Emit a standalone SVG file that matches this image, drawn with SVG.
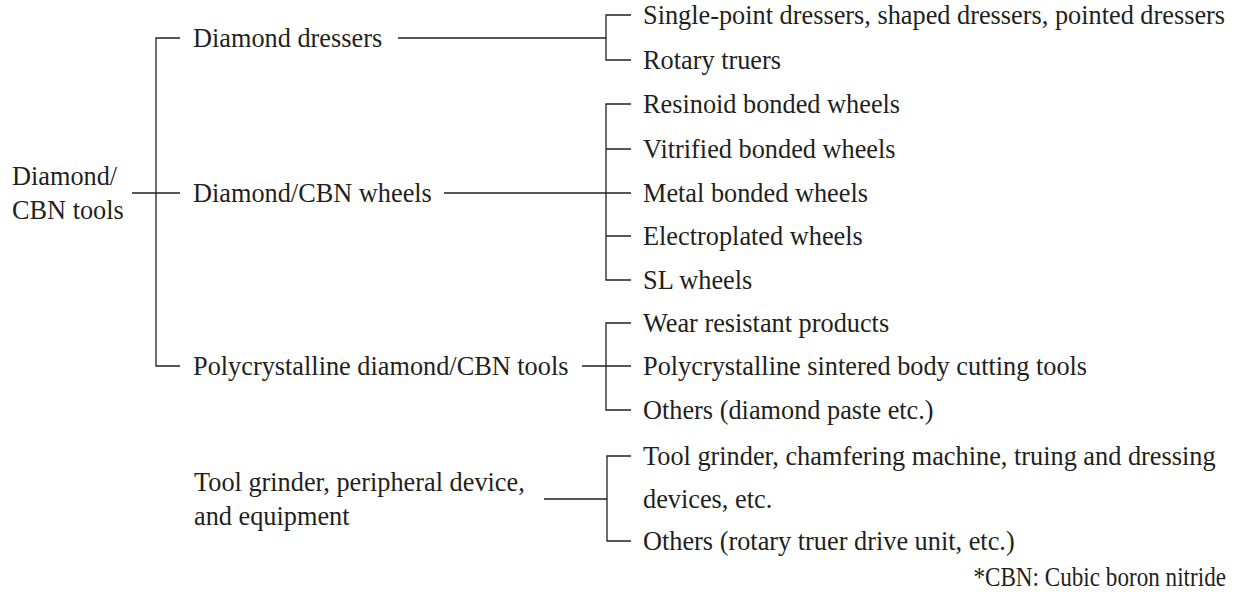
<svg xmlns="http://www.w3.org/2000/svg" width="1239" height="598" viewBox="0 0 1239 598">
<style>
text{font-family:"Liberation Serif","Times New Roman",serif;font-size:26.3px;fill:#231f20}
.c path{stroke:#231f20;stroke-width:1.3;fill:none}
</style>
<rect width="1239" height="598" fill="#fff"/>
<g class="c" id="connectors">
<path d="M132,193H180M180,38H156V366H180"/>
<path d="M398,38H606M631,15H606V60H631"/>
<path d="M444,193H631M631,104H606V280H631M606,149H631M606,236H631"/>
<path d="M582,366H631M631,323H606V410H631"/>
<path d="M544,499H607M631,456H607V541H631"/>
</g>
<g id="root"><text x="12" y="185">Diamond/</text><text x="12" y="219">CBN tools</text></g>
<g id="dressers"><text x="193" y="47">Diamond dressers</text></g>
<g id="wheels"><text x="193" y="202">Diamond/CBN wheels</text></g>
<g id="pcd"><text x="193" y="375">Polycrystalline diamond/CBN tools</text></g>
<g id="grinder"><text x="194" y="491">Tool grinder, peripheral device,</text><text x="194" y="525">and equipment</text></g>
<g id="single"><text x="643" y="24">Single-point dressers, shaped dressers, pointed dressers</text></g>
<g id="rotary"><text x="643" y="69">Rotary truers</text></g>
<g id="resinoid"><text x="643" y="113">Resinoid bonded wheels</text></g>
<g id="vitrified"><text x="643" y="158">Vitrified bonded wheels</text></g>
<g id="metal"><text x="643" y="202">Metal bonded wheels</text></g>
<g id="electro"><text x="643" y="245">Electroplated wheels</text></g>
<g id="sl"><text x="643" y="289">SL wheels</text></g>
<g id="wear"><text x="643" y="332">Wear resistant products</text></g>
<g id="sintered"><text x="643" y="375">Polycrystalline sintered body cutting tools</text></g>
<g id="others1"><text x="643" y="419">Others (diamond paste etc.)</text></g>
<g id="toolgrinder"><text x="643" y="465">Tool grinder, chamfering machine, truing and dressing</text><text x="643" y="508">devices, etc.</text></g>
<g id="others2"><text x="643" y="550">Others (rotary truer drive unit, etc.)</text></g>
<g id="note"><text text-anchor="end" font-size="22" transform="translate(1226,586) scale(0.88,1)">*CBN: Cubic boron nitride</text></g>
</svg>
